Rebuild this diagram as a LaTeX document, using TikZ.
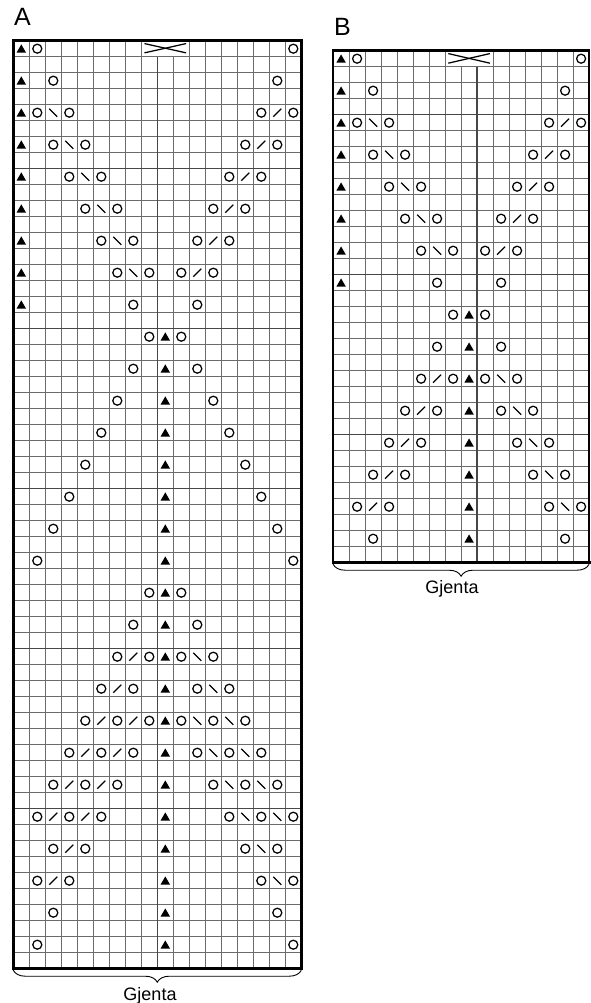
\documentclass[tikz,border=0pt]{standalone}
\usepackage{fontspec}
\setmainfont{Liberation Sans}
\usetikzlibrary{decorations.pathreplacing}

\tikzset{
  gridline/.style={draw=black!58, line width=0.85pt},
  majorline/.style={draw=black!72, line width=1.3pt},
  chartframe/.style={draw=black, line width=2.4pt},
  stitch/.style={draw=black, line width=1.25pt},
  chartname/.style={font=\fontsize{25}{25}\selectfont, anchor=base west, inner sep=0pt},
  gjentatext/.style={font=\fontsize{18}{18}\selectfont, anchor=base, inner sep=0pt},
  gjentabrace/.style={decorate, decoration={brace, amplitude=12pt}, line width=0.9pt},
}

% symbols, placed by (column, row) counted from the top left cell
\newcommand{\yo}[2]{\draw[stitch] (#1-0.5,#2-0.5) circle (4.5pt);}
\newcommand{\tri}[2]{\fill (#1-0.5,#2-0.5) ++(-4.7pt,-3.9pt) -- ++(9.4pt,0pt) -- ++(-4.7pt,8.2pt) -- cycle;}
\newcommand{\rdec}[2]{\draw[stitch] (#1-0.5,#2-0.5) ++(-4pt,-4pt) -- ++(8pt,8pt);}
\newcommand{\ldec}[2]{\draw[stitch] (#1-0.5,#2-0.5) ++(-4pt,4pt) -- ++(8pt,-8pt);}

\begin{document}
\begin{tikzpicture}[x=1pt, y=-1pt]
\useasboundingbox (0,0) rectangle (590,1003);

% Chart names
\node[chartname] (nameA) at (14,26) {A};
\node[chartname] (nameB) at (334,36) {B};

% Chart A: 18 stitches, 58 rows
\begin{scope}[shift={(13.3,40.7)}, x=16pt, y=-16pt]
  % grid
  \foreach \c in {1,...,17} \draw[gridline] (\c,1) -- (\c,58);
  \foreach \c in {1,2,3,4,5,6,7,8,11,12,13,14,15,16,17} \draw[gridline] (\c,0) -- (\c,1);
  \foreach \r in {1,...,57} \draw[gridline] (0,\r) -- (18,\r);
  \foreach \r in {8,18,...,48} \draw[majorline] (0,\r) -- (18,\r);
  \draw[majorline] (9,1) -- (9,58);
  \draw[chartframe] (0,0) rectangle (18,58);
  \draw[chartframe, line width=3.2pt, line cap=rect] (0,58) -- (18,58);
  \coordinate (Asw) at (0,58);
  \coordinate (Ase) at (18,58);

  % cable cross
  \draw[stitch] (8.2,0.18) -- (10.8,0.76);
  \draw[stitch] (8.2,0.76) -- (10.8,0.18);

  % triangles
  \foreach \r in {1,3,...,17} \tri{1}{\r};
  \foreach \r in {19,21,...,57} \tri{10}{\r};

  % yarn overs
  \foreach \c/\r in {2/1,18/1, 3/3,17/3, 2/5,4/5,16/5,18/5, 3/7,5/7,15/7,17/7,
      4/9,6/9,14/9,16/9, 5/11,7/11,13/11,15/11, 6/13,8/13,12/13,14/13,
      7/15,9/15,11/15,13/15, 8/17,12/17, 9/19,11/19, 8/21,12/21, 7/23,13/23,
      6/25,14/25, 5/27,15/27, 4/29,16/29, 3/31,17/31, 2/33,18/33, 9/35,11/35,
      8/37,12/37, 7/39,9/39,11/39,13/39, 6/41,8/41,12/41,14/41,
      5/43,7/43,9/43,11/43,13/43,15/43, 4/45,6/45,8/45,12/45,14/45,16/45,
      3/47,5/47,7/47,13/47,15/47,17/47, 2/49,4/49,6/49,14/49,16/49,18/49,
      3/51,5/51,15/51,17/51, 2/53,4/53,16/53,18/53, 3/55,17/55, 2/57,18/57}
    \yo{\c}{\r};

  % decreases
  \foreach \c/\r in {3/5,4/7,5/9,6/11,7/13,8/15, 12/39,13/41,12/43,14/43,
      13/45,15/45,14/47,16/47,15/49,17/49,16/51,17/53}
    \ldec{\c}{\r};
  \foreach \c/\r in {17/5,16/7,15/9,14/11,13/13,12/15, 8/39,7/41,6/43,8/43,
      5/45,7/45,4/47,6/47,3/49,5/49,4/51,3/53}
    \rdec{\c}{\r};
\end{scope}

% Chart B: 16 stitches, 32 rows
\begin{scope}[shift={(333.1,50.7)}, x=16pt, y=-16pt]
  % grid
  \foreach \c in {1,...,15} \draw[gridline] (\c,1) -- (\c,32);
  \foreach \c in {1,2,3,4,5,6,7,10,11,12,13,14,15} \draw[gridline] (\c,0) -- (\c,1);
  \foreach \r in {1,...,31} \draw[gridline] (0,\r) -- (16,\r);
  \foreach \r in {4,14,24} \draw[majorline] (0,\r) -- (16,\r);
  \draw[majorline] (9,1) -- (9,32);
  \draw[chartframe] (0,0) rectangle (16,32);
  \draw[chartframe, line width=3.2pt, line cap=rect] (0,32) -- (16,32);
  \coordinate (Bsw) at (0,32);
  \coordinate (Bse) at (16,32);

  % cable cross
  \draw[stitch] (7.2,0.18) -- (9.8,0.78);
  \draw[stitch] (7.2,0.78) -- (9.8,0.18);

  % triangles
  \foreach \r in {1,3,...,15} \tri{1}{\r};
  \foreach \r in {17,19,...,31} \tri{9}{\r};

  % yarn overs
  \foreach \c/\r in {2/1,16/1, 3/3,15/3, 2/5,4/5,14/5,16/5, 3/7,5/7,13/7,15/7,
      4/9,6/9,12/9,14/9, 5/11,7/11,11/11,13/11, 6/13,8/13,10/13,12/13,
      7/15,11/15, 8/17,10/17, 7/19,11/19, 6/21,8/21,10/21,12/21,
      5/23,7/23,11/23,13/23, 4/25,6/25,12/25,14/25, 3/27,5/27,13/27,15/27,
      2/29,4/29,14/29,16/29, 3/31,15/31}
    \yo{\c}{\r};

  % decreases
  \foreach \c/\r in {3/5,4/7,5/9,6/11,7/13, 11/21,12/23,13/25,14/27,15/29}
    \ldec{\c}{\r};
  \foreach \c/\r in {15/5,14/7,13/9,12/11,11/13, 7/21,6/23,5/25,4/27,3/29}
    \rdec{\c}{\r};
\end{scope}

% Repeat braces
\draw[gjentabrace] ([yshift=-1.5pt]Ase) -- ([yshift=-1.5pt]Asw);
\node[gjentatext] (gjentaA) at (150,1000) {Gjenta};
\draw[gjentabrace] ([yshift=-1.5pt]Bse) -- ([yshift=-1.5pt]Bsw);
\node[gjentatext] (gjentaB) at (452,593) {Gjenta};
\end{tikzpicture}
\end{document}
